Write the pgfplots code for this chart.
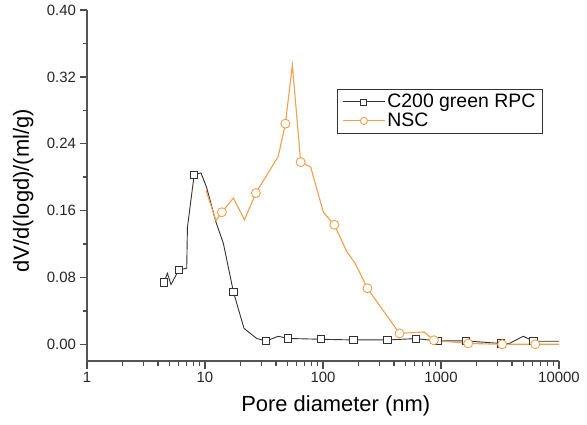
\documentclass[border=0pt]{standalone}
\usepackage{pgfplots}
\pgfplotsset{compat=1.18}
\usepackage{fontspec}
\setmainfont{Liberation Sans}
\definecolor{cblk}{RGB}{50,50,50}
\definecolor{corg}{RGB}{242,160,75}
\definecolor{caxis}{RGB}{85,85,85}
\begin{document}
\begin{tikzpicture}
\useasboundingbox (-87bp,-64bp) rectangle (500bp,361bp);
\begin{axis}[
  scale only axis, width=472bp, height=351bp,
  xmode=log, xmin=1, xmax=10000,
  ymin=-0.02, ymax=0.40,
  axis x line*=bottom, axis y line*=left,
  axis line style={caxis, line width=1.2bp, -},
  tick style={black!70, line width=1.3bp},
  tick align=outside,
  major tick length=7.5bp,
  xtick={1,10,100,1000,10000},
  xticklabels={1,10,100,1000,10000},
  extra x ticks={2,3,4,5,6,7,8,9,20,30,40,50,60,70,80,90,200,300,400,500,600,700,800,900,2000,3000,4000,5000,6000,7000,8000,9000},
  extra x tick labels={},
  extra x tick style={major tick length=5bp, tick style={black!70, line width=1.3bp}},
  ytick={0,0.08,0.16,0.24,0.32,0.40},
  extra y ticks={0.04,0.12,0.20,0.28,0.36},
  extra y tick labels={},
  extra y tick style={major tick length=4.5bp},
  yticklabel style={/pgf/number format/.cd, fixed, fixed zerofill, precision=2},
  /pgf/number format/assume math mode=true,
  ticklabel style={font=\fontsize{15}{17}\selectfont, text=black!85},
  xlabel={Pore diameter (nm)},
  ylabel={dV/d(logd)/(ml/g)},
  label style={font=\fontsize{22}{25}\selectfont},
  xlabel style={at={(axis description cs:0.527,0)}, anchor=north, yshift=-31bp},
  ylabel style={at={(axis description cs:0,0.485)}, anchor=south, yshift=50bp},
  legend cell align=left,
  legend style={at={(0.9655,0.775)}, anchor=north east, draw=black!80, line width=0.8bp,
    font=\fontsize{19.5}{23}\selectfont, inner xsep=5bp, inner ysep=3bp, row sep=0bp},
  legend image code/.code={\draw[mark repeat=2,mark phase=2,#1] plot coordinates {(0bp,0bp)(21bp,0bp)(42bp,0bp)};},
]
% C200 green RPC line
\addplot[cblk, line width=0.9bp, forget plot] table {
x y
4.5 0.074
4.8 0.085
5.15 0.0715
6.0 0.089
7.0 0.091
7.1 0.140
8.1 0.203
9.25 0.205
10.3 0.188
12.4 0.146
14.3 0.121
17.4 0.063
21.4 0.019
27.4 0.007
33 0.004
41.8 0.0096
50.2 0.007
95.5 0.006
181 0.0052
351 0.0052
614 0.0068
937 0.004
1630 0.004
3220 0.001
3800 0.001
4980 0.0096
6060 0.0036
10000 0.0036
};
% NSC line
\addplot[corg, line width=1.1bp, forget plot] table {
x y
10.2 0.184
12.4 0.148
13.9 0.158
17.4 0.175
21.6 0.149
27.0 0.181
41.8 0.225
48.0 0.264
55.0 0.334
64.7 0.218
78.7 0.212
100.7 0.158
124.8 0.143
159 0.111
187 0.097
238 0.067
314 0.043
445 0.013
718 0.0148
870 0.0048
1700 0.001
3300 0.0
6300 0.0
10000 0.0
};
% C200 marks
\addplot[only marks, mark=square*, mark size=3.6bp, mark options={draw=cblk, fill=white, line width=0.8bp}, forget plot] table {
x y
4.5 0.074
6.0 0.089
8.1 0.203
17.4 0.063
33 0.004
50.2 0.007
95.5 0.006
181 0.0052
351 0.0052
614 0.0068
937 0.004
1630 0.004
3220 0.001
6060 0.0036
};
% NSC marks
\addplot[only marks, mark=*, mark size=4.5bp, mark options={draw=corg, fill=white, line width=0.9bp}, forget plot] table {
x y
13.9 0.158
27.0 0.181
48.0 0.264
64.7 0.218
124.8 0.143
238 0.067
445 0.013
870 0.0048
1700 0.001
3300 0.0
6300 0.0
};
\addlegendimage{cblk, line width=0.9bp, mark=square*, mark size=3bp, mark options={draw=cblk, fill=white, line width=0.8bp}}
\addlegendentry{C200 green RPC}
\addlegendimage{corg, line width=1.1bp, mark=*, mark size=3.6bp, mark options={draw=corg, fill=white, line width=0.9bp}}
\addlegendentry{NSC}
\end{axis}
\end{tikzpicture}
\end{document}
